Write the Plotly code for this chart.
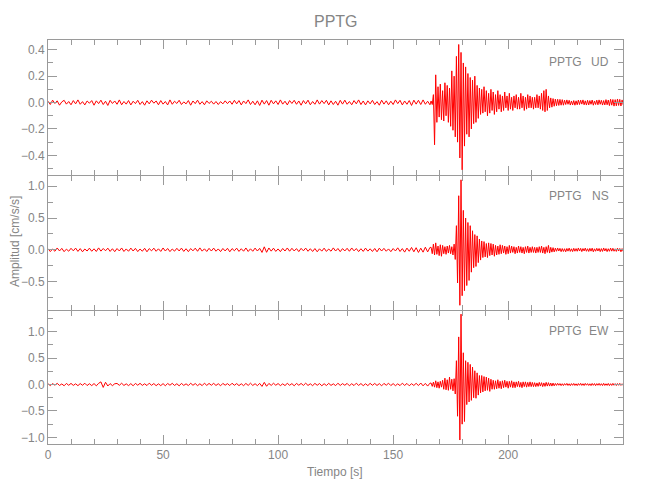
import numpy as np
import plotly.graph_objects as go

# ---------------- data (values in units of 0.001 cm/s/s) ----------------
SCALE = 0.001
station = "PPTG"
components = ["UD", "NS", "EW"]

# pre-event segment: t = 0 .. 166 s, one sample per second
pre_t0, pre_dt = 0.0, 1.0
# event segment: t = 166.5 .. 250 s, one sample every 0.5 s
evt_t0, evt_dt = 166.5, 0.5

ud_pre = [10,-15,18,-7,13,-20,5,17,-12,8,
          -17,15,-10,20,-13,7,-18,12,-5,15,
          -20,13,-8,18,-15,10,-22,17,-7,12,
          -13,20,-17,8,-12,15,-18,10,-8,17,
          -15,7,-20,13,-10,18,-5,12,-17,15,
          -12,8,-18,20,-13,10,-7,17,-15,5,
          -10,15,-20,12,-8,18,-13,7,-17,13,
          -7,10,-12,8,-15,7,-10,13,-8,12,
          -13,17,-10,15,-18,12,-8,20,-15,10,
          -17,13,-22,18,-12,15,-20,17,-10,13,
          -15,20,-12,10,-18,15,-7,17,-13,12,
          -20,15,-10,18,-17,8,-13,20,-12,15,
          -8,17,-18,13,-15,10,-20,17,-12,18,
          -13,8,-17,15,-10,20,-15,12,-18,13,
          -10,17,-15,7,-20,18,-12,13,-17,10,
          -15,20,-8,17,-18,12,-13,15,-22,18,
          -12,17,-15,20,-13,10,-17]
ud_evt = [12,-15,60,-320,210,-150,120,-110,140,-130,
          90,-140,150,-100,130,-150,110,-180,240,-210,
          200,-260,350,-300,440,-420,380,-510,300,-330,
          270,-240,220,-260,190,-200,170,-160,200,-150,
          130,-120,110,-90,100,-80,120,-70,90,-100,
          70,-80,100,-60,80,-90,60,-70,90,-50,
          60,-70,50,-60,80,-40,50,-60,70,-50,
          40,-60,50,-40,60,-50,40,-50,70,-40,
          50,-60,40,-50,60,-40,50,-40,40,-50,
          40,-40,60,-40,50,-50,70,-60,90,-70,
          100,-60,50,-40,35,-35,30,-28,26,-24,
          25,-22,24,-20,22,-20,
          18,-15,20,-13,17,-19,12,-18,15,-20,
          13,-17,19,-15,18,-12,20,-17,13,-19,
          17,-18,15,-13,19,-20,12,-15,18,-17,
          20,-13,17,-19,15,-18,22,-17,19,-23,
          25,-20,23,-27,22,-25,27,-22,24,-26,
          20,-18]

ns_pre = [18,-27,14,-22,30,-17,24,-28,12,-21,
          25,-15,28,-24,20,-30,14,-18,27,-22,
          17,-25,31,-20,22,-14,27,-24,18,-28,
          21,-17,30,-25,15,-22,28,-18,24,-27,
          14,-21,25,-30,20,-15,27,-22,17,-24,
          30,-18,22,-27,14,-20,25,-17,28,-24,
          18,-28,21,-15,27,-22,31,-20,17,-25,
          24,-18,28,-21,15,-27,22,-17,25,-30,
          20,-14,27,-24,18,-21,30,-25,17,-22,
          28,-18,24,-40,48,-38,30,-20,27,-24,
          15,-28,22,-18,30,-21,25,-17,20,-27,
          24,-15,28,-22,18,-25,21,-30,17,-20,
          27,-24,14,-21,31,-18,22,-28,20,-17,
          25,-22,30,-15,21,-27,18,-24,28,-20,
          17,-25,22,-30,27,-18,24,-21,15,-28,
          21,-17,32,-25,20,-35,28,-22,38,-30,
          34,-40,27,-36,42,-32,38]
ns_evt = [40,-60,90,-80,110,-70,60,-90,80,-100,
          70,-60,50,-70,60,-50,70,-60,50,-80,
          90,-150,380,-520,850,-870,1100,-720,620,-640,
          500,-560,430,-480,380,-350,300,-280,240,-260,
          220,-200,170,-160,140,-120,130,-110,100,-120,
          110,-90,100,-80,90,-100,70,-80,60,-70,
          80,-60,70,-50,60,-70,50,-60,70,-50,
          60,-40,50,-60,40,-50,60,-40,50,-50,
          40,-60,50,-40,60,-50,40,-40,50,-40,
          40,-50,40,-40,50,-40,60,-50,40,-60,
          50,-40,70,-50,40,-35,35,-32,
          27,-22,30,-18,24,-28,21,-25,18,-30,
          22,-20,28,-24,17,-27,25,-21,20,-22,
          30,-18,24,-27,21,-17,28,-22,18,-25,
          24,-20,27,-30,17,-21,25,-18,22,-28,
          20,-24,30,-17,21,-27,18,-22,28,-20,
          25,-21,17,-24,27,-18,22,-30,20,-25]

ew_pre = [14,-21,17,-13,22,-18,11,-24,20,-15,
          21,-17,13,-22,18,-14,24,-20,15,-21,
          18,-25,22,50,-55,42,-28,17,-22,14,
          20,-15,24,-18,13,-21,17,-24,21,-14,
          22,-17,14,-20,25,-15,18,-22,13,-21,
          17,-24,20,-14,22,-18,15,-25,21,-17,
          13,-20,24,-15,18,-22,14,-21,25,-17,
          20,-14,22,-18,15,-24,21,-13,17,-20,
          24,-15,18,-21,14,-22,20,-17,25,-18,
          15,-22,21,-36,40,-33,20,-17,24,-14,
          18,-21,13,-20,22,-15,17,-24,21,-14,
          20,-17,25,-18,14,-22,21,-15,18,-24,
          15,-20,22,-17,13,-21,24,-18,17,-14,
          21,-24,15,-20,25,-17,18,-22,14,-21,
          22,-15,20,-18,17,-25,21,-14,24,-20,
          17,-22,13,-21,25,-17,20,-24,15,-18,
          22,-20,28,-25,21,-30,25]
ew_evt = [28,-35,45,-50,70,-60,50,-70,60,-50,
          80,-90,120,-100,90,-110,140,-90,100,-120,
          110,-180,450,-600,900,-1050,1330,-750,600,-700,
          450,-380,420,-330,380,-300,330,-250,260,-260,
          220,-200,170,-160,170,-140,150,-120,140,-110,
          120,-130,100,-90,80,-90,70,-80,90,-70,
          60,-80,70,-60,80,-50,60,-70,60,-50,
          70,-60,50,-60,50,-40,60,-50,40,-60,
          50,-40,50,-50,40,-40,50,-40,40,-40,
          35,-40,30,-35,40,-30,35,-40,30,-35,
          40,-30,35,-30,28,-30,27,-25,
          20,-17,22,-14,18,-21,15,-20,17,-13,
          21,-18,14,-22,17,-15,20,-18,13,-21,
          18,-14,22,-17,15,-20,21,-13,17,-18,
          14,-21,20,-15,18,-22,17,-14,21,-17,
          15,-20,22,-18,14,-17,20,-21,15,-18,
          21,-14,17,-20,18,-15,22,-17,14,-20]

x_range = [0, 249.9]
x_major, x_minor = 50, 10
y_ranges = {"UD": [-0.549, 0.474], "NS": [-0.944, 1.16], "EW": [-1.125, 1.39]}
y_major = {"UD": 0.2, "NS": 0.5, "EW": 0.5}
y_minor = {"UD": 0.1, "NS": 0.25, "EW": 0.25}
title_text = "PPTG"
x_title = "Tiempo [s]"
y_title = "Amplitud [cm/s/s]"


def build(pre, evt):
    t = np.concatenate([pre_t0 + pre_dt * np.arange(len(pre)),
                        evt_t0 + evt_dt * np.arange(len(evt))])
    y = np.array(pre + evt, dtype=float) * SCALE
    return t, y


series = {"UD": build(ud_pre, ud_evt),
          "NS": build(ns_pre, ns_evt),
          "EW": build(ew_pre, ew_evt)}

# ---------------- layout ----------------
W, H = 650, 500
OFF = 8  # page body margin of the html page
ML, MR, MT, MB = 48 - OFF, 27 + OFF, 40 - OFF, 56 + OFF
PW, PH = W - ML - MR, H - MT - MB
FONT = "Liberation Sans, Arial, sans-serif"
TC = "#858585"
LC = "#9a9a9a"


def px_y(y):  # pixel y (from top of screenshot) -> paper
    return (H - MB - (y - OFF)) / PH


def px_x(x):
    return (x - OFF - ML) / PW


# panel boundaries in screenshot pixels
b1, b2 = 175, 310
domains = {"UD": [px_y(b1), 1.0], "NS": [px_y(b2), px_y(b1 + 1)], "EW": [0.0, px_y(b2 + 1)]}
axis_ids = {"EW": ("x", "y"), "NS": ("x2", "y2"), "UD": ("x3", "y3")}

fig = go.Figure()
for comp in components:
    t, y = series[comp]
    xa, ya = axis_ids[comp]
    fig.add_trace(go.Scatter(x=t, y=y, mode="lines", xaxis=xa, yaxis=ya,
                             line=dict(color="#ff0000", width=1),
                             showlegend=False, hoverinfo="skip"))

common = dict(showline=True, linecolor=LC, linewidth=1, mirror="allticks",
              ticks="inside", ticklen=9, tickcolor=LC, tickwidth=1,
              showgrid=False, zeroline=False, automargin=False,
              tickfont=dict(family=FONT, size=12, color=TC))

layout = dict(width=W, height=H, margin=dict(l=ML, r=MR, t=MT, b=MB, autoexpand=False),
              paper_bgcolor="white", plot_bgcolor="white", showlegend=False)

for comp in components:
    xa, ya = axis_ids[comp]
    xkey = "xaxis" if xa == "x" else "xaxis" + xa[1:]
    ykey = "yaxis" if ya == "y" else "yaxis" + ya[1:]
    layout[xkey] = dict(common, range=x_range, tick0=0, dtick=x_major,
                        anchor=ya, showticklabels=(comp == "EW"),
                        minor=dict(ticks="inside", ticklen=5, tickcolor=LC,
                                   dtick=x_minor, showgrid=False))
    if xa != "x":
        layout[xkey]["matches"] = "x"
    layout[ykey] = dict(common, range=y_ranges[comp], tick0=0, dtick=y_major[comp],
                        tickformat=".1f", anchor=xa, domain=domains[comp],
                        minor=dict(ticks="inside", ticklen=5, tickcolor=LC,
                                   dtick=y_minor[comp], showgrid=False))

fig.update_layout(**layout)

ann = []
ann.append(dict(text=title_text, xref="paper", yref="paper", x=px_x(336), y=px_y(22),
                xanchor="center", yanchor="middle", showarrow=False,
                font=dict(family=FONT, size=16, color=TC)))
ann.append(dict(text=x_title, xref="paper", yref="paper", x=px_x(335), y=px_y(472),
                xanchor="center", yanchor="middle", showarrow=False,
                font=dict(family=FONT, size=12, color=TC)))
ann.append(dict(text=y_title, xref="paper", yref="paper", x=px_x(15), y=px_y(242),
                xanchor="center", yanchor="middle", showarrow=False, textangle=-90,
                font=dict(family=FONT, size=12, color=TC)))
label_y = {"UD": 62, "NS": 196, "EW": 331}
for comp in components:
    ann.append(dict(text=station, xref="paper", yref="paper", x=px_x(584), y=px_y(label_y[comp]),
                    xanchor="right", yanchor="middle", showarrow=False,
                    font=dict(family=FONT, size=12, color=TC)))
    ann.append(dict(text=comp, xref="paper", yref="paper", x=px_x(611), y=px_y(label_y[comp]),
                    xanchor="right", yanchor="middle", showarrow=False,
                    font=dict(family=FONT, size=12, color=TC)))
fig.update_layout(annotations=ann)

fig.write_html("out.html")
